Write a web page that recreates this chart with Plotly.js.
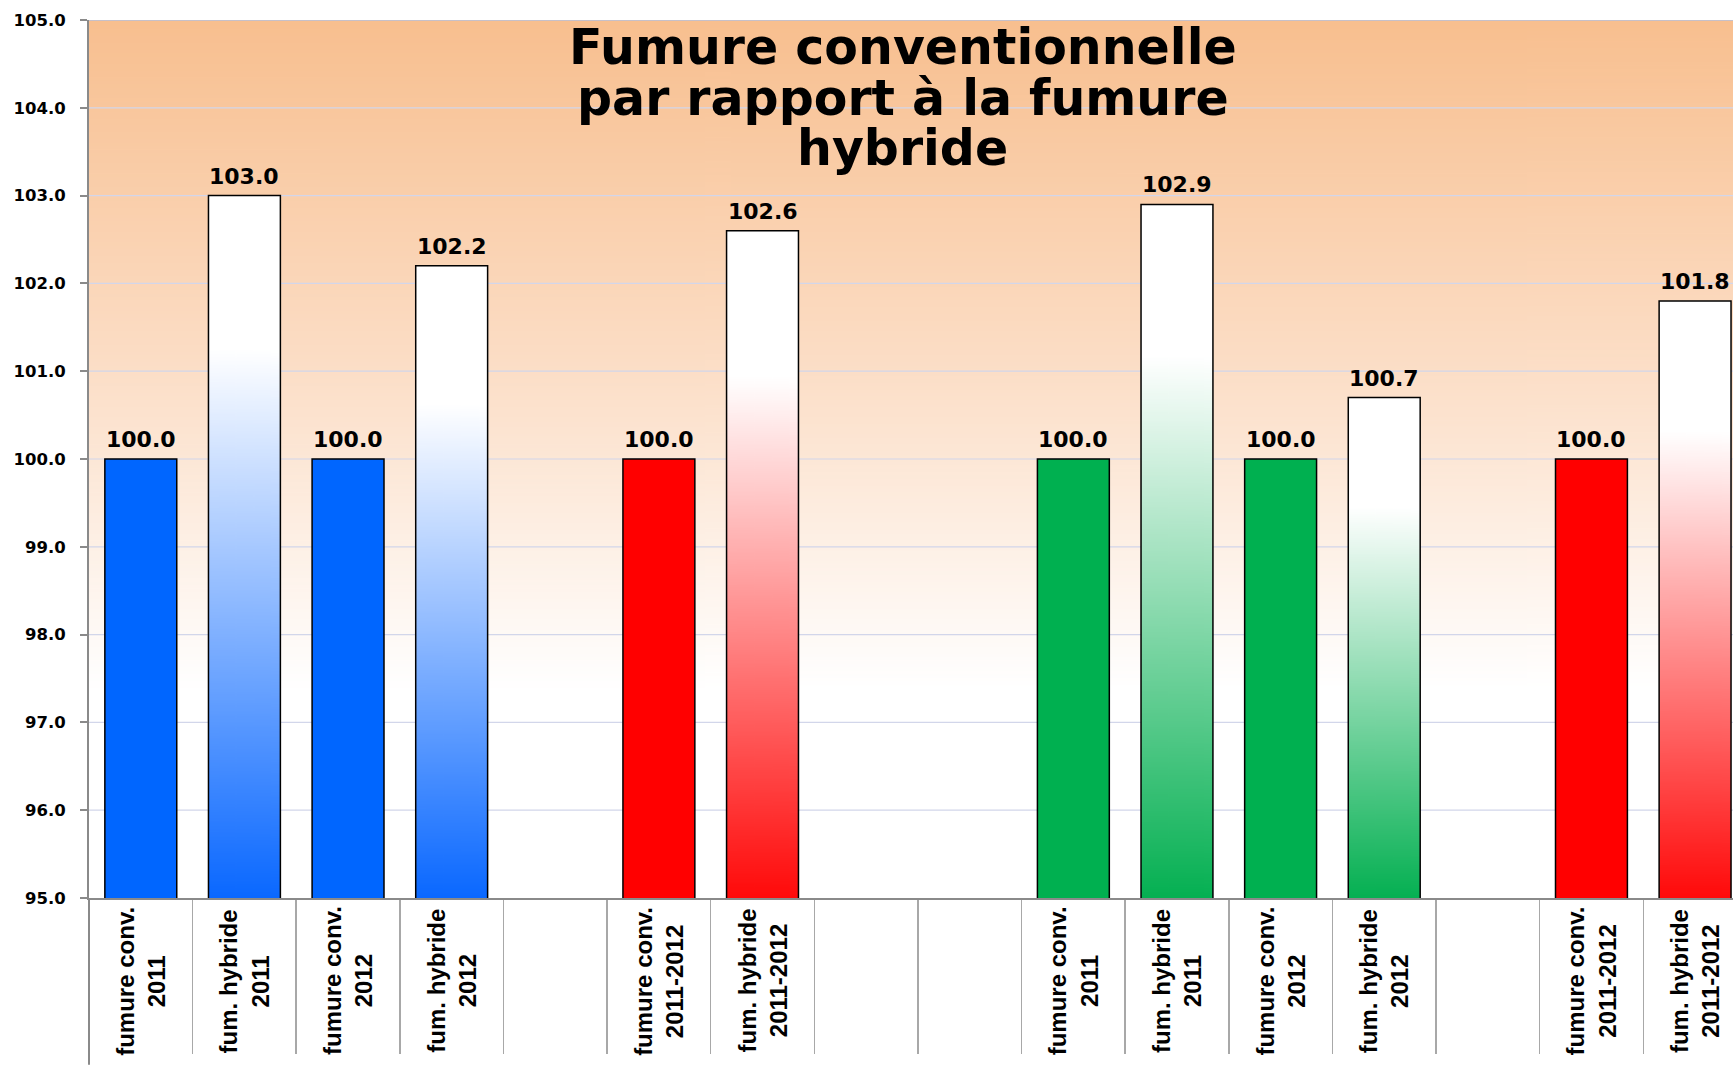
<!DOCTYPE html>
<html>
<head>
<meta charset="utf-8">
<script src="https://cdn.plot.ly/plotly-3.0.1.min.js"></script>
<style>
html, body { margin: 0; padding: 0; background: #ffffff; }
#chart { width: 1733px; height: 1071px; }
</style>
</head>
<body>
<div id="chart"></div>
<script>
// ---- data ----
const titleLines = ['Fumure conventionnelle', 'par rapport à la fumure', 'hybride'];
const categoryLabels = [
  'fumure conv.<br>2011', 'fum. hybride<br>2011', 'fumure conv.<br>2012', 'fum. hybride<br>2012', '',
  'fumure conv.<br>2011-2012', 'fum. hybride<br>2011-2012', '', '',
  'fumure conv.<br>2011', 'fum. hybride<br>2011', 'fumure conv.<br>2012', 'fum. hybride<br>2012', '',
  'fumure conv.<br>2011-2012', 'fum. hybride<br>2011-2012'
];
const values = [100.0, 103.0, 100.0, 102.2, null, 100.0, 102.6, null, null, 100.0, 102.9, 100.0, 100.7, null, 100.0, 101.8];
const barKinds = ['solid', 'gradient', 'solid', 'gradient', null, 'solid', 'gradient', null, null, 'solid', 'gradient', 'solid', 'gradient', null, 'solid', 'gradient'];
const barColors = ['#0066FF', '#0A68FF', '#0066FF', '#0A68FF', null, '#FF0000', '#FF0A0A', null, null, '#00B050', '#05B052', '#00B050', '#05B052', null, '#FF0000', '#FF0A0A'];
const yTicks = [95, 96, 97, 98, 99, 100, 101, 102, 103, 104, 105];

// ---- style ----
const yMin = 95, yMax = 105;
const barWidth = 0.694;
const xIdx = categoryLabels.map((_, i) => i);

function vGradient(stops) {
  const c = document.createElement('canvas');
  c.width = 4; c.height = 512;
  const g = c.getContext('2d');
  const lg = g.createLinearGradient(0, 0, 0, 512);
  stops.forEach(s => lg.addColorStop(s[0], s[1]));
  g.fillStyle = lg;
  g.fillRect(0, 0, 4, 512);
  return c.toDataURL('image/png');
}

const images = [];
// plot background gradient (orange to white)
images.push({
  source: vGradient([[0, '#F8BF8F'], [0.42, '#FCE0CA'], [0.76, '#FFFFFF'], [1, '#FFFFFF']]),
  xref: 'paper', yref: 'paper', x: 0, y: 1, sizex: 1, sizey: 1,
  xanchor: 'left', yanchor: 'top', sizing: 'stretch', layer: 'below'
});
// gradient fills for hybrid bars
values.forEach((v, i) => {
  if (v == null || barKinds[i] !== 'gradient') return;
  images.push({
    source: vGradient([[0, '#FFFFFF'], [0.22, '#FFFFFF'], [1, barColors[i]]]),
    xref: 'x', yref: 'y', x: i, y: v, sizex: barWidth, sizey: v - yMin,
    xanchor: 'center', yanchor: 'top', sizing: 'stretch', layer: 'below'
  });
});

const shapes = yTicks.filter(v => v > yMin).map(v => ({
  type: 'line', xref: 'paper', x0: 0, x1: 1, yref: 'y', y0: v, y1: v,
  line: { color: v === yMax ? '#B7C0DC' : '#D2D6EA', width: v === yMax ? 1.5 : 1.2 }, layer: 'below'
}));
shapes.push({
  type: 'line', xref: 'paper', yref: 'paper', x0: 0, x1: 0, y0: 0, y1: -0.19,
  line: { color: '#8A8A8A', width: 2 }, layer: 'above'
});

const annotations = [];
const titleShifts = [3, -48, -98];
titleLines.forEach((t, k) => {
  annotations.push({
    xref: 'paper', yref: 'paper', x: 0.495, y: 1, xanchor: 'center', yanchor: 'top',
    yshift: titleShifts[k], showarrow: false, text: t,
    font: { family: 'DejaVu Sans, sans-serif', size: 49, color: '#000000', weight: 'bold' }
  });
});
categoryLabels.forEach((t, i) => {
  if (!t) return;
  annotations.push({
    xref: 'x', yref: 'paper', x: i, y: -0.0945, xanchor: 'center', yanchor: 'middle',
    textangle: -90, align: 'center', showarrow: false, text: t,
    font: { family: 'Liberation Sans Narrow, Arial Narrow, sans-serif', size: 24, color: '#000000', weight: 'bold' }
  });
});
// value labels above bars
values.forEach((v, i) => {
  if (v == null) return;
  annotations.push({
    xref: 'x', yref: 'y', x: i, y: v, xanchor: 'center', yanchor: 'bottom', yshift: 5,
    showarrow: false, text: v.toFixed(1),
    font: { family: 'DejaVu Sans, sans-serif', size: 22, color: '#000000', weight: 'bold' }
  });
});

const trace = {
  type: 'bar',
  x: xIdx,
  y: values,
  width: barWidth,
  marker: {
    color: values.map((v, i) => barKinds[i] === 'solid' ? barColors[i] : 'rgba(0,0,0,0)'),
    line: { color: '#000000', width: 1.5 }
  },
  hoverinfo: 'skip'
};

const layout = {
  width: 1733, height: 1071,
  margin: { l: 89, r: 0, t: 20, b: 173, pad: 0 },
  paper_bgcolor: '#FFFFFF',
  plot_bgcolor: '#FFFFFF',
  showlegend: false,
  xaxis: {
    type: 'category', range: [-0.5, 15.366],
    showline: true, linecolor: '#8A8A8A', linewidth: 2,
    ticks: 'outside', tickson: 'boundaries', ticklen: 154, tickwidth: 1.5, tickcolor: '#A8A8A8',
    showticklabels: false, showgrid: false, zeroline: false, fixedrange: true
  },
  yaxis: {
    range: [yMin, yMax], tickmode: 'array', tickvals: yTicks, ticktext: yTicks.map(v => v.toFixed(1)),
    ticks: 'outside', ticklen: 7, tickwidth: 2, tickcolor: '#8A8A8A',
    showline: true, linecolor: '#8A8A8A', linewidth: 2,
    showgrid: false, zeroline: false, fixedrange: true, ticklabelstandoff: 11,
    tickfont: { family: 'DejaVu Sans, sans-serif', size: 16.5, color: '#000000', weight: 'bold' }
  },
  images: images,
  shapes: shapes,
  annotations: annotations
};

Plotly.newPlot('chart', [trace], layout, { displayModeBar: false, staticPlot: true });
</script>
</body>
</html>
